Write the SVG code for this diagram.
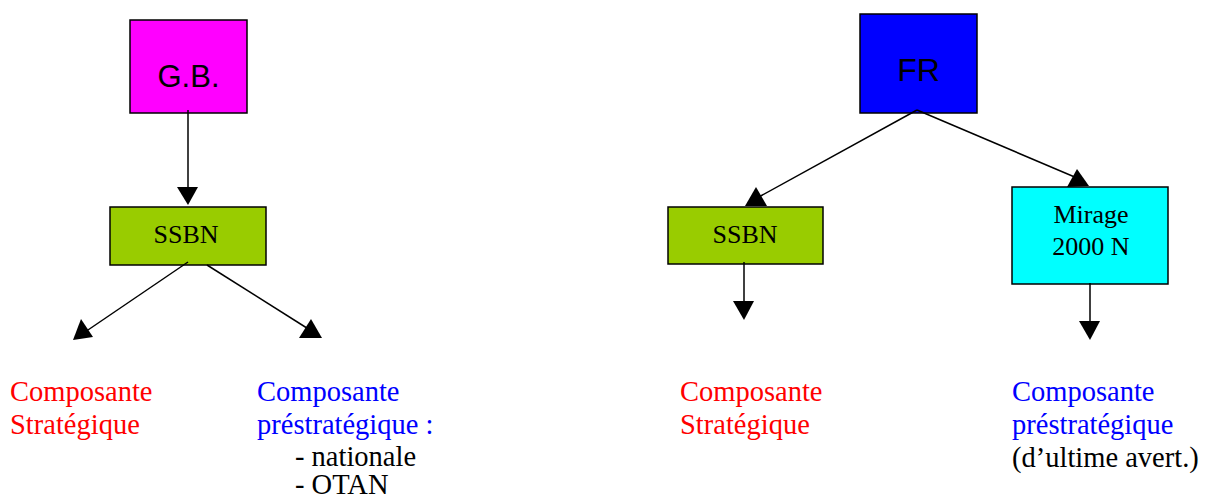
<svg xmlns="http://www.w3.org/2000/svg" width="1205" height="501" viewBox="0 0 1205 501">
<style>
.box{stroke:#000;stroke-width:1.5}
.sans{font-family:"Liberation Sans",Arial,sans-serif;font-size:31px;fill:#000;text-anchor:middle}
.serif{font-family:"Liberation Serif","Times New Roman",serif;font-size:26px;fill:#000;text-anchor:middle}
.lbl{font-family:"Liberation Serif","Times New Roman",serif;font-size:28.5px}
.red{fill:#FF0000}.blue{fill:#0000FF}.blk{fill:#000}
.ln{stroke:#000;stroke-width:1.5;fill:none}
.ah{fill:#000}
</style>
<rect width="1205" height="501" fill="#fff"/>
<g id="gb">
<rect class="box" x="130" y="20" width="117" height="93" fill="#FF00FF"/>
<text class="sans" x="188.5" y="87">G.B.</text>
</g>
<g id="ssbn-gb">
<rect class="box" x="110" y="207" width="156" height="58" fill="#99CC00"/>
<text class="serif" x="186" y="243">SSBN</text>
</g>
<g id="fr">
<rect class="box" x="860" y="14" width="117" height="99" fill="#0000FF"/>
<text class="sans" x="918.5" y="81" style="font-size:32px">FR</text>
</g>
<g id="ssbn-fr">
<rect class="box" x="668" y="207" width="155" height="57" fill="#99CC00"/>
<text class="serif" x="745" y="243">SSBN</text>
</g>
<g id="mirage">
<rect class="box" x="1012" y="187" width="156" height="97" fill="#00FFFF"/>
<text class="serif" x="1091" y="223">Mirage</text>
<text class="serif" x="1091" y="255">2000 N</text>
</g>
<g id="connectors">
<line class="ln" x1="188" y1="110" x2="188" y2="190"/>
<polygon class="ah" points="177,187 198,187 188,205"/>
<line class="ln" x1="188" y1="262" x2="85" y2="332"/>
<polygon class="ah" points="73,340 93,337 81,319"/>
<line class="ln" x1="207" y1="265" x2="310" y2="330"/>
<polygon class="ah" points="299,338 322,338 311,319"/>
<line class="ln" x1="917" y1="110" x2="757" y2="198"/>
<polygon class="ah" points="745,206 767,206 756,187"/>
<line class="ln" x1="917" y1="110" x2="1077" y2="178"/>
<polygon class="ah" points="1067,187 1089,186 1077,169"/>
<line class="ln" x1="744" y1="262" x2="744" y2="303"/>
<polygon class="ah" points="733,301 754,301 744,320"/>
<line class="ln" x1="1090" y1="283" x2="1090" y2="323"/>
<polygon class="ah" points="1079,321 1100,321 1090,340"/>
</g>
<g id="label-gb-strat" class="lbl red">
<text x="10" y="401">Composante</text>
<text x="10" y="434">Stratégique</text>
</g>
<g id="label-gb-prestrat" class="lbl">
<text class="blue" x="257" y="401">Composante</text>
<text class="blue" x="257" y="434">préstratégique :</text>
<text class="blk" x="295" y="466">- nationale</text>
<text class="blk" x="295" y="494">- OTAN</text>
</g>
<g id="label-fr-strat" class="lbl red">
<text x="680" y="401">Composante</text>
<text x="680" y="434">Stratégique</text>
</g>
<g id="label-fr-prestrat" class="lbl">
<text class="blue" x="1012" y="401">Composante</text>
<text class="blue" x="1012" y="434">préstratégique</text>
<text class="blk" x="1012" y="467">(d’ultime avert.)</text>
</g>
</svg>
